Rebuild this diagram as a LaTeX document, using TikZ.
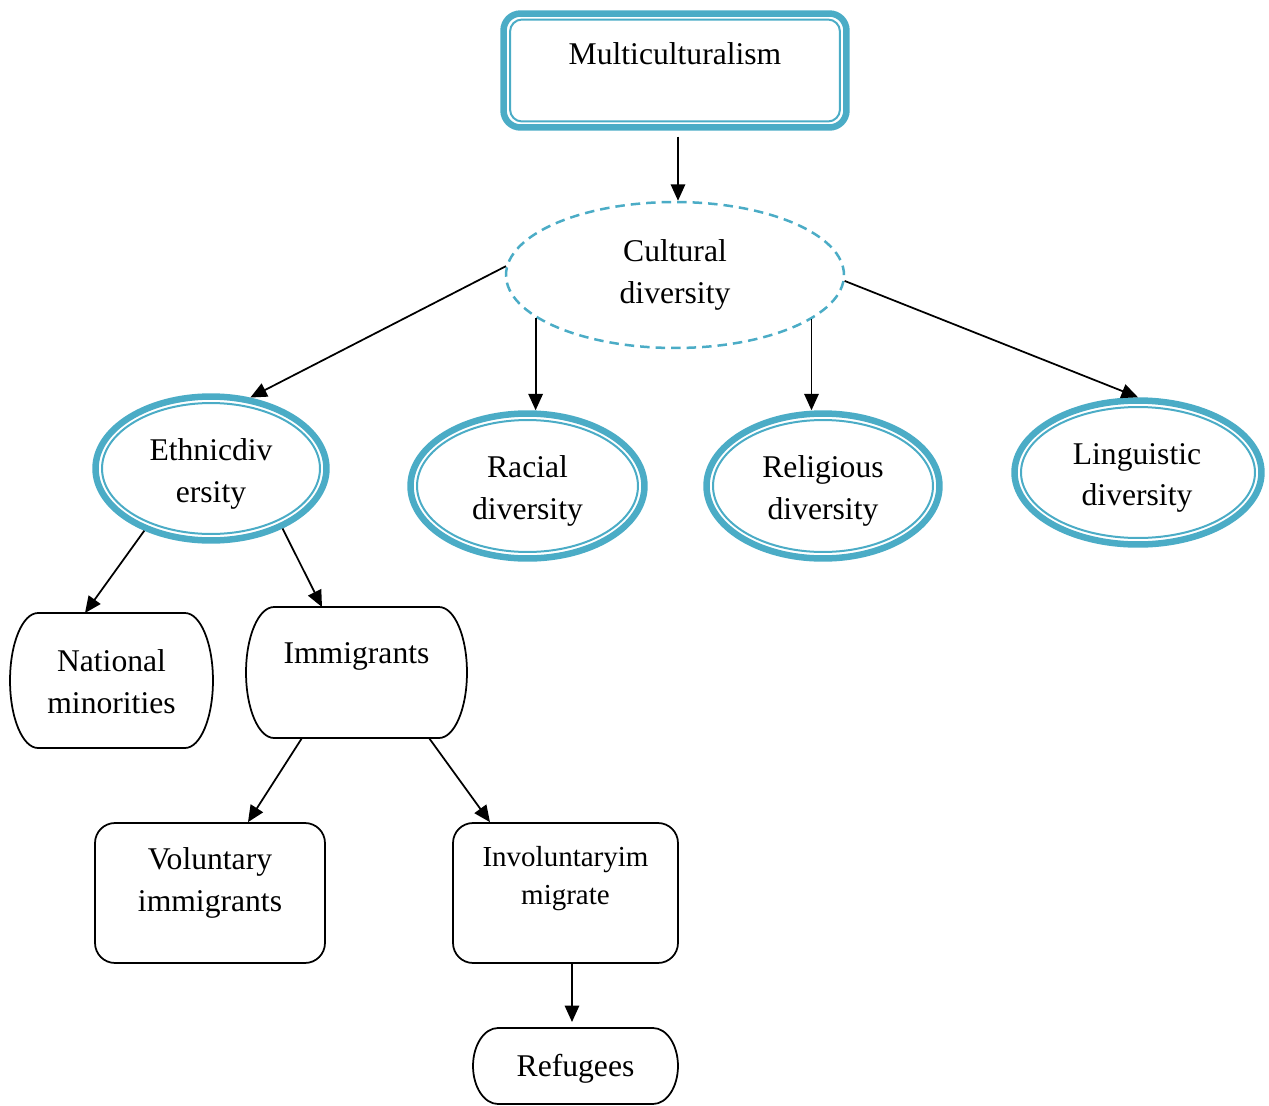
\documentclass[tikz,border=0pt]{standalone}
\usepackage{fontspec}
\setmainfont{Liberation Serif}
\usetikzlibrary{arrows.meta,calc,shapes.geometric}
\definecolor{tealfive}{RGB}{75,172,198}
\newcommand\capsuleshape[3]{%
  \draw[blk] ($(#1.north west)+(#2,0)$) -- ($(#1.north east)+(-#2,0)$)
    arc[start angle=90,end angle=-90,x radius=#2,y radius=#3]
    -- ($(#1.south west)+(#2,0)$)
    arc[start angle=270,end angle=90,x radius=#2,y radius=#3] -- cycle;}
\begin{document}
\begin{tikzpicture}[x=0.02cm,y=-0.02cm,
  txt/.style={font=\fontsize{18}{23.8}\selectfont, align=center, inner sep=0pt},
  txtsm/.style={font=\fontsize{16.5}{21.6}\selectfont, align=center, inner sep=0pt},
  blk/.style={draw=black, line width=0.035cm},
  arr/.style={draw=black, line width=0.035cm, -{Triangle[length=0.33cm,width=0.29cm]}},
  thickouter/.style={draw=tealfive, line width=0.13cm, inner sep=0pt},
  thininner/.style={draw=tealfive, line width=0.04cm, inner sep=0pt},
  ellout/.style={ellipse, thickouter},
  ellin/.style={ellipse, thininner},
  hold/.style={rectangle, draw=none, inner sep=0pt, outer sep=0pt},
  rbox/.style={rectangle, rounded corners=0.4cm, blk, inner sep=0pt, minimum width=#1, minimum height=2.8cm}
]
\useasboundingbox (0,0) rectangle (1269,1106);

% top box
\node[rectangle, rounded corners=0.34cm, thickouter, minimum width=6.86cm, minimum height=2.28cm] (mc) at (675,70.5) {};
\node[rectangle, rounded corners=0.24cm, thininner, minimum width=6.6cm, minimum height=2.04cm] (mci) at (675,70.5) {};
\node[txt, anchor=base] (mct) at (675,64) {Multiculturalism};

% cultural diversity
\node[ellipse, draw=tealfive, line width=0.05cm, dash pattern=on 0.19cm off 0.12cm, inner sep=0pt, minimum width=6.76cm, minimum height=2.92cm] (cd) at (675,275) {};
\node[txt] (cdt) at (675,275) {Cultural\\diversity};

% four ellipses
\node[ellout, minimum width=4.62cm, minimum height=2.88cm] (eth) at (211,468.5) {};
\node[ellin, minimum width=4.36cm, minimum height=2.62cm] (ethi) at (211,468.5) {};
\node[txt] (etht) at (211,474) {Ethnicdiv\\ersity};

\node[ellout, minimum width=4.68cm, minimum height=2.9cm] (rac) at (527.5,486) {};
\node[ellin, minimum width=4.42cm, minimum height=2.64cm] (raci) at (527.5,486) {};
\node[txt] (ract) at (527.5,491) {Racial\\diversity};

\node[ellout, minimum width=4.66cm, minimum height=2.9cm] (rel) at (823,486) {};
\node[ellin, minimum width=4.4cm, minimum height=2.64cm] (reli) at (823,486) {};
\node[txt] (relt) at (823,491) {Religious\\diversity};

\node[ellout, minimum width=4.94cm, minimum height=2.88cm] (ling) at (1138,472.5) {};
\node[ellin, minimum width=4.68cm, minimum height=2.62cm] (lingi) at (1138,472.5) {};
\node[txt] (lingt) at (1137,478) {Linguistic\\diversity};

% capsules
\node[hold, minimum width=4.06cm, minimum height=2.7cm] (nat) at (111.5,680.5) {};
\capsuleshape{nat}{0.56cm}{1.35cm}
\node[txt] (natt) at (111.5,682) {National\\minorities};

\node[hold, minimum width=4.42cm, minimum height=2.62cm] (imm) at (356.5,672.5) {};
\capsuleshape{imm}{0.56cm}{1.31cm}
\node[txt, anchor=base] (immt) at (356.5,663) {Immigrants};

% boxes
\node[rbox=4.6cm] (vol) at (210,893) {};
\node[txt] (volt) at (210,883) {Voluntary\\immigrants};

\node[rbox=4.5cm] (inv) at (565.5,893) {};
\node[txtsm] (invt) at (565.5,879) {Involuntaryim\\migrate};

\node[hold, minimum width=4.1cm, minimum height=1.52cm] (ref) at (575.5,1066) {};
\capsuleshape{ref}{0.5cm}{0.76cm}
\node[txt, anchor=base] (reft) at (575.5,1076) {Refugees};

% connectors
\draw[arr] ($(mc.south)+(3,6)$) coordinate (a0) -- (a0 |- cd.north);
\draw[arr] (cd.177) -- (eth.61);
\draw[arr] (cd.197.5) -- (cd.197.5 |- rac.north);
\draw[arr] (cd.342.8) -- (cd.342.8 |- rel.north);
\draw[arr] (cd.358.7) -- (ling.north);
\draw[arr] (eth.223) -- ($(nat.north)+(-26.5,0)$);
\draw[arr] (eth.320.3) -- ($(imm.north)+(-34.5,0)$);
\draw[arr] ($(imm.south)+(-54.5,0)$) -- ($(vol.north)+(38,0)$);
\draw[arr] ($(imm.south)+(72.5,0)$) -- ($(inv.north)+(-75.5,0)$);
\draw[arr] ($(inv.south)+(6.5,0)$) coordinate (a9) -- ($(a9 |- ref.north)+(0,-6)$);
\end{tikzpicture}
\end{document}
